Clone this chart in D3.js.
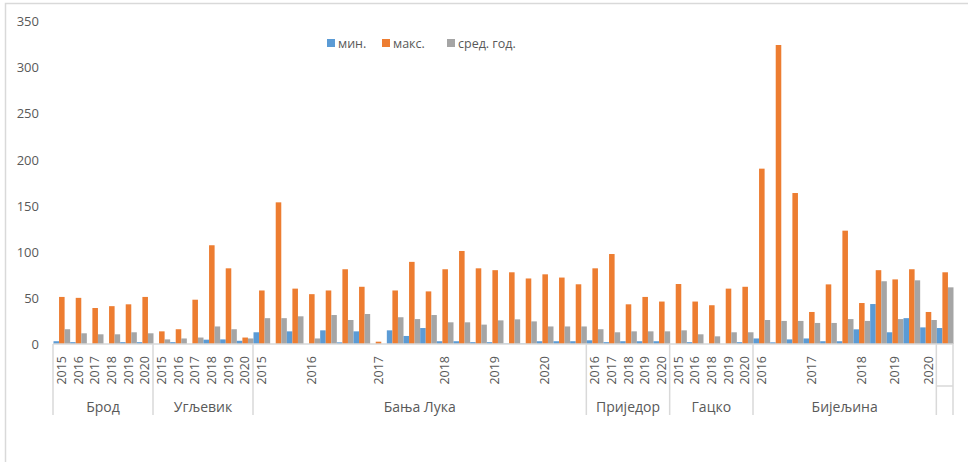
<!DOCTYPE html>
<html>
<head>
<meta charset="utf-8">
<script src="https://cdn.jsdelivr.net/npm/d3@7"></script>
<style>
  html, body { margin: 0; padding: 0; background: #fff; }
  svg { display: block; font-family: "Open Sans", "DejaVu Sans", sans-serif; }
</style>
</head>
<body>
<svg id="chart" width="968" height="462"></svg>
<script>
// Outer category level: station names and how many inner categories each spans
const groupNames = ['Брод', 'Угљевик', 'Бања Лука', 'Приједор', 'Гацко', 'Бијељина', ''];
const groupSizes = [6, 6, 20, 5, 5, 11, 1];

// Inner category level (blank cells stay blank)
const yearLabels = [
  '2015', '2016', '2017', '2018', '2019', '2020',
  '2015', '2016', '2017', '2018', '2019', '2020',
  '2015', '', '', '2016', '', '', '', '2017', '', '', '', '2018', '', '', '2019', '', '', '2020', '', '',
  '2016', '2017', '2018', '2019', '2020',
  '2015', '2016', '2018', '2019', '2020',
  '2016', '', '', '2017', '', '', '2018', '', '2019', '', '2020',
  ''
];

const seriesNames = ['мин.', 'макс.', 'сред. год.'];

const minVals = [
  3, 2, 0, 0, 2, 2,
  0, 2, 0, 4.7, 5, 3.5,
  12.7, 0, 13.7, 0, 14.8, 1.8, 13.7, 0, 14.8, 8.7, 17.3, 3, 3, 2, 2, 0.5, 0.5, 3, 3, 3,
  4, 2, 3, 3, 3,
  0, 2, 0, 0, 2,
  6, 1.8, 5, 6, 3, 3, 15.9, 43.3, 12.7, 28, 18,
  17.3
];

const maxVals = [
  51, 50, 39, 41, 43, 51,
  13.7, 16, 48, 107, 82, 7,
  58, 153.5, 60, 54, 58, 81, 62, 2.5, 58, 89, 57, 81, 100.8, 82, 80, 77.7, 71, 75.5, 72, 64.7,
  82, 97.5, 43, 51, 46,
  65, 46, 42, 60, 62,
  190, 324, 163.6, 34.7, 64.6, 122.8, 44.4, 80, 70, 81, 34.7,
  77.7
];

const meanVals = [
  16, 11.6, 10.5, 10.5, 12.7, 11.6,
  5, 6, 7, 19, 16, 6,
  28, 28, 30, 6, 31.4, 26, 32.5, 0, 29, 27, 31.4, 23.5, 23.5, 21, 25.6, 26.7, 24.5, 19, 19, 19,
  16, 12.7, 13.7, 13.7, 13.7,
  14.8, 10.5, 8.3, 12.7, 12.7,
  26, 25, 25, 22.8, 22.8, 27, 25, 68, 27, 69, 26,
  61.4
];

const yTicks = [0, 50, 100, 150, 200, 250, 300, 350];

const colors = ['#5B9BD5', '#ED7D31', '#A5A5A5'];
const textColor = '#595959';
const lineColor = '#D9D9D9';

const svg = d3.select('#chart');

// chart area frame
svg.append('rect')
  .attr('x', 5.5).attr('y', 3.5)
  .attr('width', 990).attr('height', 480)
  .attr('fill', 'none').attr('stroke', lineColor).attr('stroke-width', 1.5);

const plot = { left: 53, right: 953, top: 21, bottom: 344 };

const rows = yearLabels.map((label, i) => ({
  i, label, values: [minVals[i], maxVals[i], meanVals[i]]
}));

const x = d3.scaleBand()
  .domain(rows.map(r => r.i))
  .range([plot.left, plot.right])
  .paddingInner(0)
  .paddingOuter(0);

const xSeries = d3.scaleBand()
  .domain(d3.range(seriesNames.length))
  .range([x.bandwidth() * 0.03, x.bandwidth() * 1.03])
  .padding(0);

const y = d3.scaleLinear()
  .domain([0, 350])
  .range([plot.bottom, plot.top]);

// y axis: labels only, no line or ticks
const yAxis = svg.append('g')
  .attr('transform', `translate(${plot.left - 14},0)`)
  .call(d3.axisLeft(y).tickValues(yTicks).tickSize(0).tickPadding(0));
yAxis.select('.domain').remove();
yAxis.selectAll('text')
  .attr('fill', textColor)
  .style('font-size', '13px')
  .style('font-family', '"Open Sans", sans-serif')
  .attr('dy', '0.36em');

// bars
const cat = svg.append('g').selectAll('g')
  .data(rows)
  .join('g')
  .attr('transform', d => `translate(${x(d.i)},0)`);

cat.selectAll('rect')
  .data(d => d.values.map((v, s) => ({ v, s })))
  .join('rect')
  .attr('x', d => xSeries(d.s))
  .attr('width', xSeries.bandwidth())
  .attr('y', d => y(d.v))
  .attr('height', d => y(0) - y(d.v))
  .attr('fill', d => colors[d.s]);

// category axis baseline
svg.append('line')
  .attr('x1', plot.left).attr('x2', plot.right)
  .attr('y1', y(0)).attr('y2', y(0))
  .attr('stroke', lineColor).attr('stroke-width', 1.5);

// inner level labels (rotated years)
svg.append('g').selectAll('text')
  .data(rows.filter(r => r.label))
  .join('text')
  .attr('transform', d => `translate(${x(d.i) + x.bandwidth() / 2},356) rotate(-90)`)
  .attr('text-anchor', 'end')
  .attr('dy', '0.36em')
  .attr('fill', textColor)
  .style('font-size', '12.5px')
  .text(d => d.label);

// outer level: boundaries and names
let start = 0;
const groups = groupNames.map((name, g) => {
  const s = start;
  start += groupSizes[g];
  return { name, first: s, last: start - 1 };
});
const edges = [plot.left].concat(groups.map(g => x(g.last) + x.bandwidth()));

svg.append('g').selectAll('line')
  .data(edges)
  .join('line')
  .attr('x1', d => d).attr('x2', d => d)
  .attr('y1', y(0)).attr('y2', 415)
  .attr('stroke', lineColor).attr('stroke-width', 1.5);

// the unnamed last group gets a separator between the levels
groups.filter(g => !g.name).forEach(g => {
  svg.append('line')
    .attr('x1', x(g.first)).attr('x2', x(g.last) + x.bandwidth())
    .attr('y1', 386).attr('y2', 386)
    .attr('stroke', lineColor).attr('stroke-width', 1.5);
});

svg.append('g').selectAll('text')
  .data(groups.filter(g => g.name))
  .join('text')
  .attr('x', g => (x(g.first) + x(g.last) + x.bandwidth()) / 2)
  .attr('y', 412)
  .attr('text-anchor', 'middle')
  .attr('fill', textColor)
  .style('font-size', '14px')
  .text(g => g.name);

// legend
const legendX = [327, 382, 447];
const legend = svg.append('g').selectAll('g')
  .data(seriesNames)
  .join('g')
  .attr('transform', (d, i) => `translate(${legendX[i]},39)`);
legend.append('rect')
  .attr('width', 8).attr('height', 8)
  .attr('fill', (d, i) => colors[i]);
legend.append('text')
  .attr('x', 11).attr('y', 8.5)
  .attr('fill', textColor)
  .style('font-size', '12.5px')
  .text(d => d);
</script>
</body>
</html>
